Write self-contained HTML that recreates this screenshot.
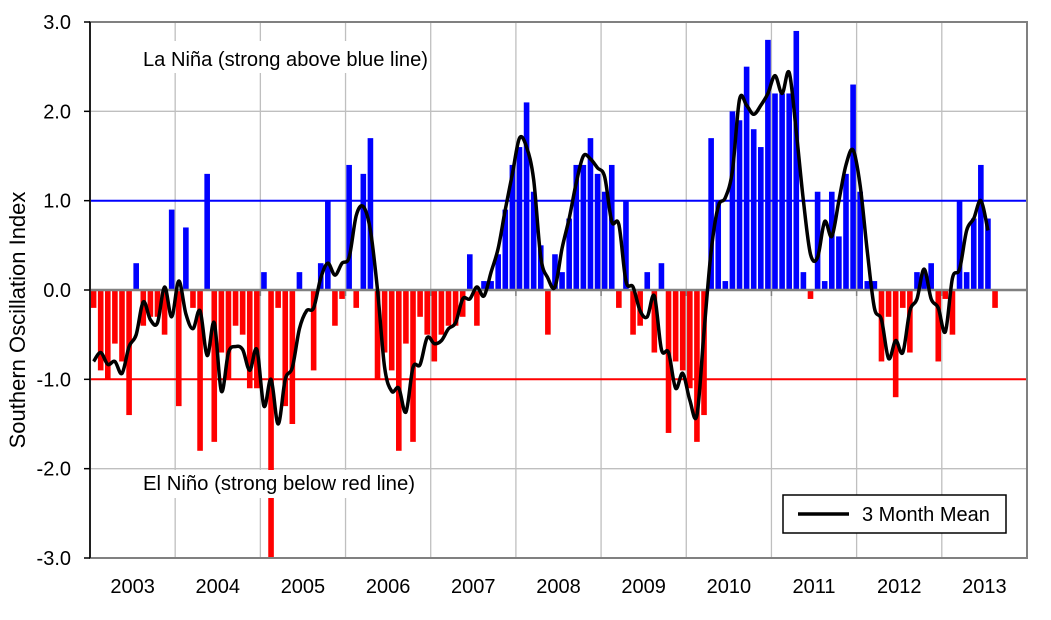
<!DOCTYPE html>
<html><head><meta charset="utf-8"><style>
html,body{margin:0;padding:0;background:#fff}
svg text{font-family:"Liberation Sans",Arial,sans-serif;fill:#000}
</style></head><body>
<svg id="c" width="1051" height="615" viewBox="0 0 1051 615" xmlns="http://www.w3.org/2000/svg">
<rect width="1051" height="615" fill="#fff"/>
<g id="grid" stroke="#bfbfbf" stroke-width="1.3"></g>
<g id="bars"></g>
<line x1="90" y1="200.7" x2="1027" y2="200.7" stroke="#0000ff" stroke-width="2"/>
<line x1="90" y1="379.3" x2="1027" y2="379.3" stroke="#ff0000" stroke-width="2"/>
<line x1="90" y1="290" x2="1027" y2="290" stroke="#808080" stroke-width="2.5"/>
<g id="zt" stroke="#808080" stroke-width="1.5"></g>
<path id="ln" fill="none" stroke="#000" stroke-width="3.5" stroke-linejoin="round"/>
<rect x="133" y="41" width="297" height="32" fill="#fff"/>
<text x="143" y="66" font-size="20" textLength="285" lengthAdjust="spacingAndGlyphs">La Niña (strong above blue line)</text>
<rect x="143" y="470" width="286" height="28" fill="#fff"/>
<text x="143" y="490" font-size="20" textLength="272" lengthAdjust="spacingAndGlyphs">El Niño (strong below red line)</text>
<rect x="90" y="22" width="937" height="536" fill="none" stroke="#808080" stroke-width="2"/>
<line x1="90" y1="22" x2="90" y2="558" stroke="#000" stroke-width="1.5"/>
<g id="yt" stroke="#000" stroke-width="1.5"></g>
<g id="yl" font-size="20" text-anchor="end"></g>
<g id="xl" font-size="20" text-anchor="middle"></g>
<text transform="translate(25,320) rotate(-90)" font-size="22" text-anchor="middle">Southern Oscillation Index</text>
<rect x="783" y="495" width="223" height="38" fill="#fff" stroke="#000" stroke-width="1.5"/>
<line x1="798" y1="514" x2="849" y2="514" stroke="#000" stroke-width="3.5"/>
<text x="862" y="521" font-size="20">3 Month Mean</text>
</svg>
<script>
var d=[-0.2,-0.9,-1.0,-0.6,-0.8,-1.4,0.3,-0.4,-0.3,-0.3,-0.5,0.9,
-1.3,0.7,-0.2,-1.8,1.3,-1.7,-0.7,-1.0,-0.4,-0.5,-1.1,-1.1,
0.2,-3.0,-0.2,-1.3,-1.5,0.2,0.0,-0.9,0.3,1.0,-0.4,-0.1,
1.4,-0.2,1.3,1.7,-1.0,-0.7,-0.9,-1.8,-0.6,-1.7,-0.3,-0.5,
-0.8,-0.5,-0.4,-0.4,-0.3,0.4,-0.4,0.1,0.1,0.4,0.9,1.4,
1.6,2.1,1.1,0.5,-0.5,0.4,0.2,0.8,1.4,1.4,1.7,1.3,
1.1,1.4,-0.2,1.0,-0.5,-0.4,0.2,-0.7,0.3,-1.6,-0.8,-0.9,
-1.1,-1.7,-1.4,1.7,1.0,0.1,2.0,1.9,2.5,1.8,1.6,2.8,
2.2,2.2,2.2,2.9,0.2,-0.1,1.1,0.1,1.1,0.6,1.3,2.3,
1.1,0.1,0.1,-0.8,-0.3,-1.2,-0.2,-0.7,0.2,0.2,0.3,-0.8,
-0.1,-0.5,1.0,0.2,0.8,1.4,0.8,-0.2];
var NS="http://www.w3.org/2000/svg";
function el(p,t,a){var e=document.createElementNS(NS,t);for(var k in a)e.setAttribute(k,a[k]);p.appendChild(e);return e;}
function Y(v){return 290-v*89.333;}
var yw=85.18;
var g=document.getElementById('grid');
for(var k=1;k<11;k++){var x=90+yw*k;el(g,'line',{x1:x,y1:22,x2:x,y2:558});}
[3,2,-2,-3].forEach(function(v){el(g,'line',{x1:90,y1:Y(v),x2:1027,y2:Y(v)});});
var b=document.getElementById('bars');
d.forEach(function(v,i){var x=90.8+7.098*i;if(v==0)return;
el(b,'rect',{x:x,y:v>0?Y(v):290,width:5.6,height:Math.abs(v)*89.333,fill:v>0?'#0000ff':'#ff0000'});});
var zt=document.getElementById('zt');
for(var k=1;k<11;k++){var x=90+yw*k;el(zt,'line',{x1:x,y1:290,x2:x,y2:296});}
var yt=document.getElementById('yt'),yl=document.getElementById('yl');
[3,2,1,0,-1,-2,-3].forEach(function(v){el(yt,'line',{x1:84,y1:Y(v),x2:90,y2:Y(v)});
var t=el(yl,'text',{x:71,y:Y(v)+7});t.textContent=v.toFixed(1);});
var xl=document.getElementById('xl');
for(var k=0;k<11;k++){var t=el(xl,'text',{x:90+yw*(k+0.5),y:593});t.textContent=2003+k;}
var m=[],pre=-1.3;
for(var i=0;i<=126;i++){var a=i==0?pre:d[i-1];m.push([93.6+7.098*i,Y((a+d[i]+d[i+1])/3)]);}
var s='M'+m[0][0]+','+m[0][1];
for(var i=0;i<m.length-1;i++){var p0=m[Math.max(0,i-1)],p1=m[i],p2=m[i+1],p3=m[Math.min(m.length-1,i+2)];
s+=' C'+(p1[0]+(p2[0]-p0[0])/6)+','+(p1[1]+(p2[1]-p0[1])/6)+' '+(p2[0]-(p3[0]-p1[0])/6)+','+(p2[1]-(p3[1]-p1[1])/6)+' '+p2[0]+','+p2[1];}
document.getElementById('ln').setAttribute('d',s);
</script>
</body></html>
